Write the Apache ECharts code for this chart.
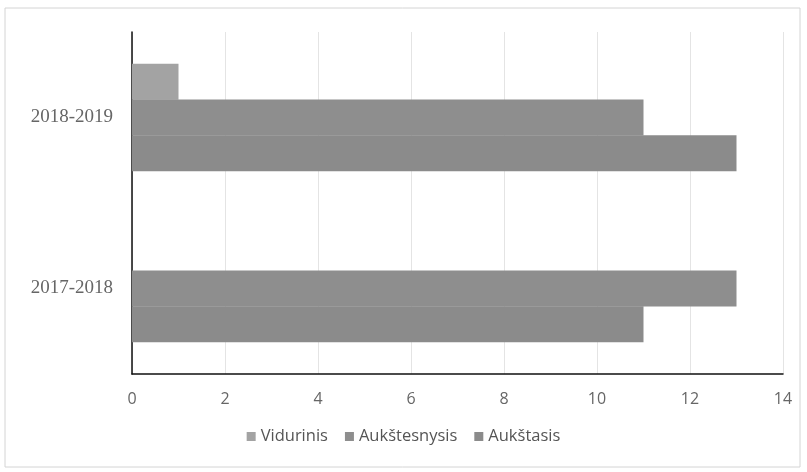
<!DOCTYPE html>
<html>
<head>
<meta charset="utf-8">
<script src="https://cdn.jsdelivr.net/npm/echarts@6/dist/echarts.min.js"></script>
<style>
  html, body { margin: 0; padding: 0; background: #fff; }
  #chart { width: 807px; height: 472px; }
</style>
</head>
<body>
<div id="chart"></div>
<script>
// mokslo metai
var categories = ['2017-2018', '2018-2019'];
var seriesNames = ['Vidurinis', 'Aukštesnysis', 'Aukštasis'];
var vidurinis = [0, 1];
var aukstesnysis = [13, 11];
var aukstasis = [11, 13];
var xTicks = [0, 2, 4, 6, 8, 10, 12, 14];

var colors = ['#a3a3a3', '#8e8e8e', '#8b8b8b'];
var values = [vidurinis, aukstesnysis, aukstasis];

var chart = echarts.init(document.getElementById('chart'));

var series = seriesNames.map(function (name, i) {
    return {
        name: name,
        type: 'bar',
        data: values[i],
        itemStyle: {color: colors[i]},
        barGap: '-1%',
        barCategoryGap: '37%'
    };
});

chart.setOption({
    animation: false,
    backgroundColor: '#fff',
    graphic: [{
        type: 'rect',
        shape: {x: 5, y: 8, width: 795, height: 459},
        style: {fill: 'none', stroke: '#d4d4d4', lineWidth: 1},
        silent: true
    }],
    grid: {left: 132, right: 24, top: 32, bottom: 98},
    legend: {
        data: seriesNames,
        bottom: 22,
        left: 'center',
        icon: 'rect',
        itemWidth: 9,
        itemHeight: 9,
        itemGap: 17,
        textStyle: {fontFamily: 'Open Sans', fontSize: 16.5, color: '#555'}
    },
    xAxis: {
        type: 'value',
        min: xTicks[0],
        max: xTicks[xTicks.length - 1],
        interval: 2,
        axisLine: {show: true, lineStyle: {color: '#111', width: 1.5}},
        axisTick: {show: false},
        axisLabel: {fontFamily: 'Open Sans', fontSize: 16, color: '#666', margin: 17},
        splitLine: {show: true, lineStyle: {color: '#e4e4e4'}}
    },
    yAxis: {
        type: 'category',
        data: categories,
        axisLine: {show: true, lineStyle: {color: '#111', width: 1.5}},
        axisTick: {show: false},
        axisLabel: {fontFamily: 'Liberation Serif', fontSize: 19, color: '#666', margin: 19}
    },
    series: series
});
</script>
</body>
</html>
